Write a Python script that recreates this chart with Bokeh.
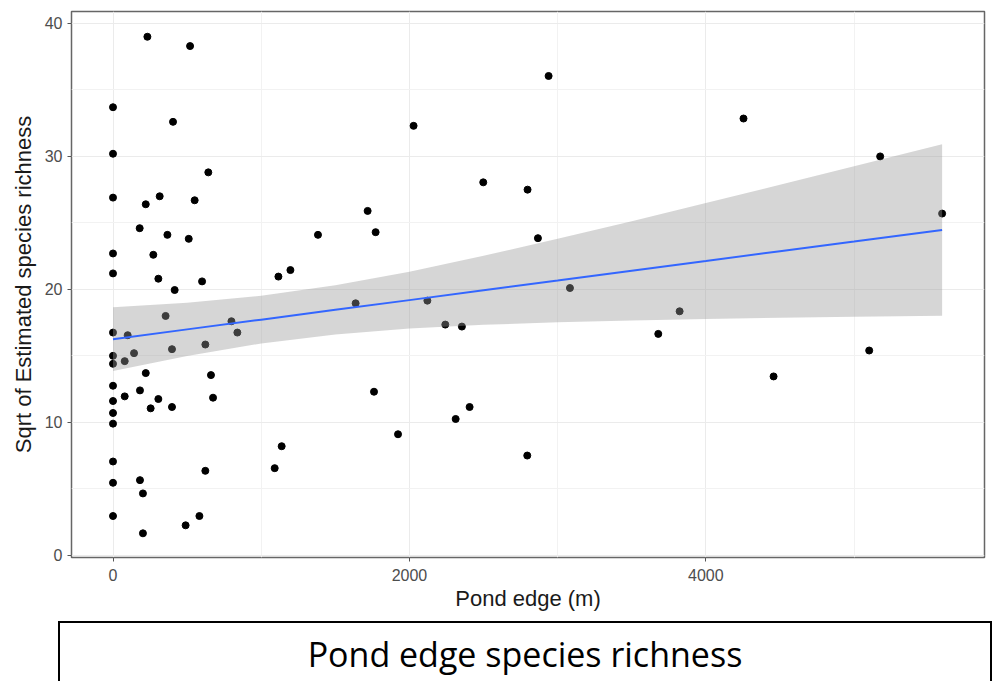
from bokeh.plotting import figure
from bokeh.models import FixedTicker, Range1d, Div
from bokeh.layouts import column
from bokeh.embed import file_html
from bokeh.resources import INLINE

# ---- data ----
edge_m = [0, 0, 0, 0, 0, 0, 0, 0, 0, 0, 0, 0, 0, 0, 0,
          232, 520, 405, 643, 315, 221, 551, 180, 367, 511, 1383, 272, 306, 601, 416,
          1116, 1197, 355, 99, 799, 839, 398, 623, 142, 79, 221, 661, 182, 79, 675,
          306, 254, 398, 1138, 1091, 623, 182, 202, 583, 490, 202,
          2939, 2028, 2498, 2797, 1718, 1772, 2867, 3083, 1637, 2121, 2242, 2354,
          1761, 2406, 2312, 1923, 2795, 4254, 5176, 5594, 3823, 3679, 5102, 4457]
sqrt_richness = [33.7, 30.2, 26.9, 22.7, 21.2, 16.75, 15.0, 14.4, 12.75, 11.6, 10.7, 9.9, 7.05, 5.45, 2.95,
                 39.0, 38.3, 32.6, 28.8, 27.0, 26.4, 26.7, 24.6, 24.1, 23.8, 24.1, 22.6, 20.8, 20.6, 19.95,
                 20.96, 21.45, 18.0, 16.55, 17.6, 16.75, 15.5, 15.85, 15.2, 14.6, 13.7, 13.55, 12.4, 11.95, 11.85,
                 11.75, 11.05, 11.15, 8.2, 6.55, 6.35, 5.65, 4.65, 2.95, 2.25, 1.65,
                 36.05, 32.3, 28.05, 27.5, 25.9, 24.3, 23.85, 20.1, 18.95, 19.15, 17.35, 17.2,
                 12.3, 11.15, 10.25, 9.1, 7.5, 32.85, 30.0, 25.7, 18.35, 16.65, 15.4, 13.45]

# linear fit and its confidence band
fit_x = [0, 500, 1000, 1500, 2000, 2500, 3000, 3500, 4000, 4500, 5000, 5594]
fit_y = [16.25, 16.99, 17.72, 18.46, 19.19, 19.93, 20.66, 21.40, 22.13, 22.87, 23.60, 24.47]
fit_lo = [13.85, 14.98, 15.93, 16.61, 17.05, 17.33, 17.52, 17.66, 17.77, 17.86, 17.94, 18.02]
fit_hi = [18.65, 18.99, 19.52, 20.30, 21.33, 22.52, 23.80, 25.13, 26.49, 27.87, 29.26, 30.92]

x_ticks = [0, 2000, 4000]
x_minor = [1000, 3000, 5000]
y_ticks = [0, 10, 20, 30, 40]
y_minor = [5, 15, 25, 35]

x_title = "Pond edge (m)"
y_title = "Sqrt of Estimated species richness"
caption = "Pond edge species richness"

# ---- figure ----
p = figure(width=986, height=621, output_backend="svg", toolbar_location=None,
           x_range=Range1d(-280, 5880), y_range=Range1d(-0.17, 40.9),
           min_border_left=71, min_border_right=2, min_border_top=11, min_border_bottom=64)
p.background_fill_color = "white"
p.border_fill_color = "white"
p.outline_line_color = "#666666"
p.outline_line_width = 1.5

p.xaxis.ticker = FixedTicker(ticks=x_ticks, minor_ticks=x_minor)
p.yaxis.ticker = FixedTicker(ticks=y_ticks, minor_ticks=y_minor)

for g in (p.xgrid, p.ygrid):
    g.grid_line_color = "#EBEBEB"
    g.grid_line_width = 1
    g.minor_grid_line_color = "#F2F2F2"
    g.minor_grid_line_width = 1

for ax in (p.xaxis, p.yaxis):
    ax.axis_line_color = None
    ax.major_tick_line_color = "#555555"
    ax.major_tick_line_width = 1
    ax.major_tick_out = 4
    ax.major_tick_in = 0
    ax.minor_tick_line_color = None
    ax.major_label_text_font = "Liberation Sans"
    ax.major_label_text_font_size = "16px"
    ax.major_label_text_color = "#4D4D4D"
    ax.axis_label_text_font = "Liberation Sans"
    ax.axis_label_text_font_size = "22px"
    ax.axis_label_text_font_style = "normal"
    ax.axis_label_text_color = "#1A1A1A"

p.xaxis.axis_label = x_title
p.yaxis.axis_label = y_title
p.xaxis.major_label_standoff = 7
p.xaxis.axis_label_standoff = 2
p.yaxis.major_label_standoff = 5
p.yaxis.axis_label_standoff = 6

p.scatter(edge_m, sqrt_richness, size=7, color="black")
p.varea(x=fit_x, y1=fit_lo, y2=fit_hi, fill_color="#999999", fill_alpha=0.4)
p.line(fit_x, fit_y, line_color="#3366FF", line_width=2)

cap = Div(text=f'<div style="width:100%;font-family:\'Open Sans\';font-size:34px;color:#000;'
               f'text-align:center;padding-top:7px;">{caption}</div>',
          width=934, height=60, margin=(0, 0, 0, 58),
          styles={"border-top": "2px solid black", "border-left": "2px solid black",
                  "border-right": "2px solid black", "box-sizing": "border-box",
                  "background": "white", "text-align": "center"})

layout = column(p, cap, spacing=0)
open("out.html", "w").write(file_html(layout, INLINE))
